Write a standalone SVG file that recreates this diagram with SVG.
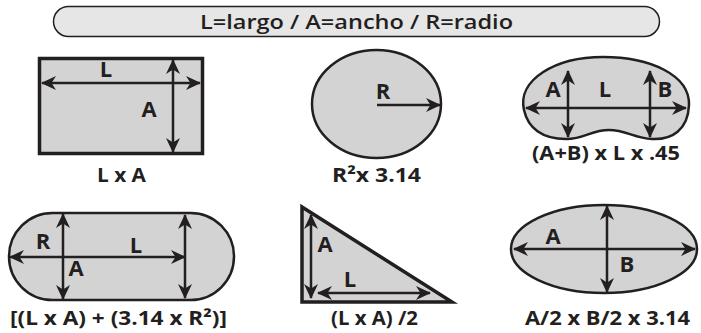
<svg xmlns="http://www.w3.org/2000/svg" width="701" height="333" viewBox="0 0 701 333">
<style>
.shape{fill:#d3d3d4;stroke:#231f20;stroke-width:2.5}
.thick{stroke-width:3.5}
.arr{fill:none;stroke:#231f20;stroke-width:2.5;marker-start:url(#ah);marker-end:url(#ah)}
.one{marker-start:none}
.t{font-family:"Open Sans","Liberation Sans",sans-serif;font-weight:700;fill:#231f20}
.lbl{font-size:22px;text-anchor:middle}
.cap{font-size:20px}
.ttl{font-size:20px;font-weight:600}
</style>
<defs>
<marker id="ah" viewBox="0 0 15 14" refX="14" refY="7" markerWidth="15" markerHeight="14" markerUnits="userSpaceOnUse" orient="auto-start-reverse">
<path d="M15,7 L0,0 L4.5,7 L0,14 Z" fill="#231f20"/>
</marker>
</defs>
<g id="title">
<rect x="53.5" y="6.5" width="606" height="30" rx="15" fill="#e6e6e6" stroke="#231f20" stroke-width="1.5"/>
<text class="t ttl" x="200" y="29" textLength="313" lengthAdjust="spacingAndGlyphs">L=largo / A=ancho / R=radio</text>
</g>
<g id="rectangle">
<rect class="shape thick" x="39.5" y="58.5" width="163" height="95"/>
<text class="t lbl" x="106" y="77">L</text>
<text class="t lbl" x="149" y="117">A</text>
<text class="t cap" x="97" y="182" textLength="49" lengthAdjust="spacingAndGlyphs">L x A</text>
</g>
<g id="circle">
<ellipse class="shape" cx="376.5" cy="104" rx="64.5" ry="54"/>
<text class="t lbl" x="383" y="99">R</text>
<text class="t cap" x="332" y="182" textLength="89" lengthAdjust="spacingAndGlyphs">R²x 3.14</text>
</g>
<g id="kidney">
<path class="shape" d="M524,110 C517,80 555,57 603,57 C650,57 690,75 689,105 C688,130 672,140 652,139 C634,138 626,130 609,130 C591,130 585,139 566,139 C542,139 528,128 524,110 Z"/>
<text class="t lbl" x="553" y="97">A</text>
<text class="t lbl" x="605" y="97">L</text>
<text class="t lbl" x="665" y="97">B</text>
<text class="t cap" x="532" y="160" textLength="148" lengthAdjust="spacingAndGlyphs">(A+B) x L x .45</text>
</g>
<g id="stadium">
<rect class="shape" x="9" y="213" width="225" height="87" rx="43.5"/>
<text class="t lbl" x="43" y="249">R</text>
<text class="t lbl" x="136" y="253">L</text>
<text class="t lbl" x="76" y="276">A</text>
<text class="t cap" x="10" y="325" textLength="217" lengthAdjust="spacingAndGlyphs">[(L x A) + (3.14 x R²)]</text>
</g>
<g id="triangle">
<polygon class="shape thick" points="302,207 302,302 452,302" stroke-linejoin="miter"/>
<text class="t lbl" x="325" y="252">A</text>
<text class="t lbl" x="350" y="287">L</text>
<text class="t cap" x="331" y="325" textLength="87" lengthAdjust="spacingAndGlyphs">(L x A) /2</text>
</g>
<g id="ellipse">
<ellipse class="shape" cx="604" cy="249" rx="93" ry="44"/>
<text class="t lbl" x="553" y="244">A</text>
<text class="t lbl" x="627" y="272">B</text>
<text class="t cap" x="525" y="325" textLength="165" lengthAdjust="spacingAndGlyphs">A/2 x B/2 x 3.14</text>
</g>
<g id="connectors">
<line class="arr" x1="42" y1="83" x2="200" y2="83"/>
<line class="arr" x1="173" y1="60" x2="173" y2="152"/>
<line class="arr one" x1="377" y1="105" x2="440" y2="105"/>
<line class="arr" x1="526" y1="108" x2="686" y2="108"/>
<line class="arr" x1="568" y1="71" x2="568" y2="137"/>
<line class="arr" x1="650" y1="71" x2="650" y2="137"/>
<line class="arr" x1="10" y1="257" x2="185" y2="257"/>
<line class="arr" x1="63" y1="214" x2="63" y2="299"/>
<line class="arr" x1="185" y1="215" x2="185" y2="298"/>
<line class="arr" x1="311" y1="215" x2="311" y2="298"/>
<line class="arr" x1="318" y1="293" x2="430" y2="293"/>
<line class="arr" x1="514" y1="249" x2="695" y2="249"/>
<line class="arr" x1="607" y1="206" x2="607" y2="292"/>
</g>
</svg>
